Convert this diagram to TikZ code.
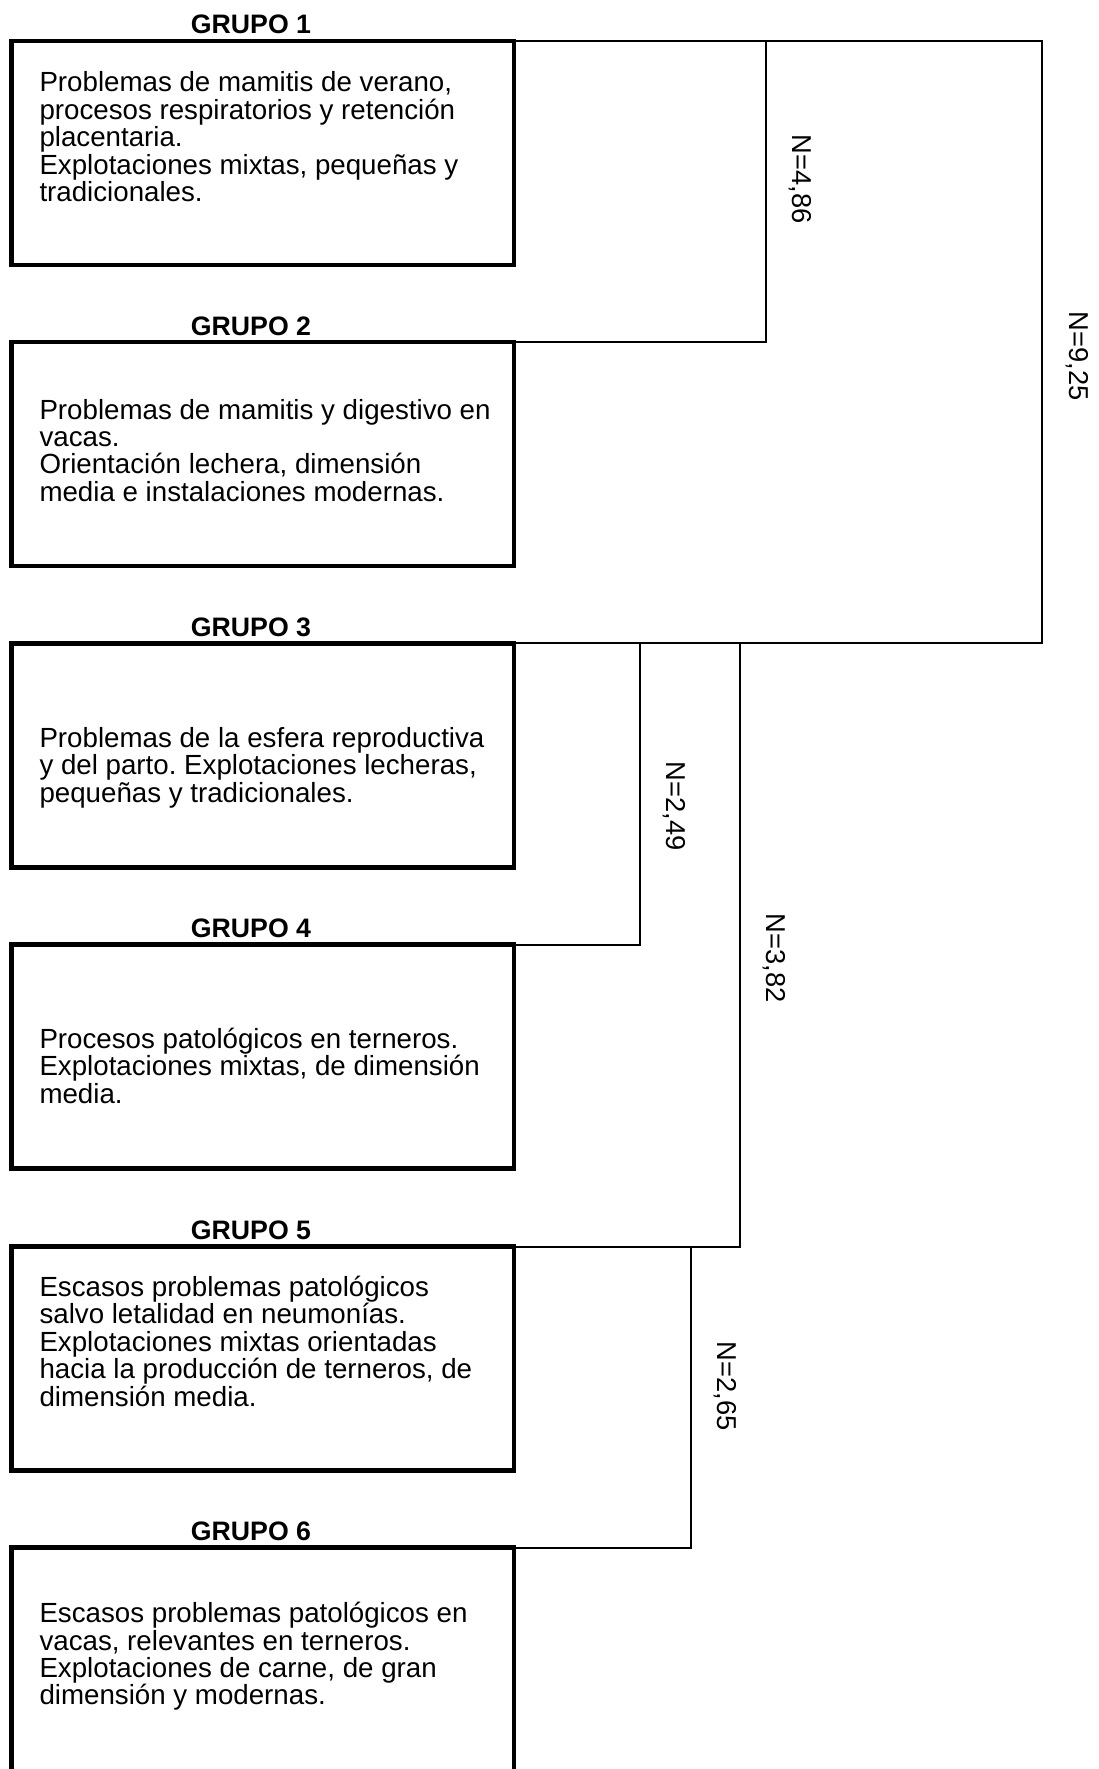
\documentclass[tikz,border=0pt]{standalone}
\usepackage{fontspec}
\setmainfont{Liberation Sans}
\frenchspacing
\newcommand{\tightlines}{\lineskiplimit-100pt\relax}
\newcommand{\fstrut}{\rule{0pt}{27pt}}
\begin{document}
\begin{tikzpicture}[x=1pt,y=-1pt,
  gbox/.style={draw=black,line width=4.5pt,minimum width=502.3pt,minimum height=224pt,inner sep=0pt,outer sep=0pt,anchor=north west},
  gtext/.style={anchor=north west,inner sep=0pt,outer sep=0pt,align=left,font={\fontsize{27.7}{27.4}\selectfont\tightlines\frenchspacing}},
  glabel/.style={anchor=base,inner sep=0pt,font={\fontsize{26.7}{30}\selectfont\bfseries}},
  nlabel/.style={rotate=-90,anchor=center,inner sep=0pt,font={\fontsize{27.3}{30}\selectfont}},
  conn/.style={draw=black,line width=2pt,line join=miter}]
\useasboundingbox (0,0) rectangle (1098,1769);
\clip (0,0) rectangle (1098,1769);
\fill[white] (0,0) rectangle (1098,1769);
% boxes
\node[gbox] (g1) at (11.7,40.8) {};
\node[gbox] (g2) at (11.7,342) {};
\node[gbox] (g3) at (11.7,643.3) {};
\node[gbox] (g4) at (11.7,944.5) {};
\node[gbox] (g5) at (11.7,1246.5) {};
\node[gbox] (g6) at (11.7,1547.7) {};
% titles
\node[glabel] (l1) at (251,33.8) {GRUPO 1};
\node[glabel] (l2) at (251,335) {GRUPO 2};
\node[glabel] (l3) at (251,636.3) {GRUPO 3};
\node[glabel] (l4) at (251,937.5) {GRUPO 4};
\node[glabel] (l5) at (251,1239.5) {GRUPO 5};
\node[glabel] (l6) at (251,1540.7) {GRUPO 6};
% texts
\node[gtext] (t1) at (39.5,64.8) {\fstrut Problemas de mamitis de verano,\\ procesos respiratorios y retención\\ placentaria.\\ Explotaciones mixtas, pequeñas y\\ tradicionales.};
\node[gtext] (t2) at (39.5,392) {\fstrut Problemas de mamitis y digestivo en\\ vacas.\\ Orientación lechera, dimensión\\ media e instalaciones modernas.};
\node[gtext] (t3) at (39.5,720.3) {\fstrut Problemas de la esfera reproductiva\\ y del parto. Explotaciones lecheras,\\ pequeñas y tradicionales.};
\node[gtext] (t4) at (39.5,1021.5) {\fstrut Procesos patológicos en terneros.\\ Explotaciones mixtas, de dimensión\\ media.};
\node[gtext] (t5) at (39.5,1269.5) {\fstrut Escasos problemas patológicos\\ salvo letalidad en neumonías.\\ Explotaciones mixtas orientadas\\ hacia la producción de terneros, de\\ dimensión media.};
\node[gtext] (t6) at (39.5,1595.7) {\fstrut Escasos problemas patológicos en\\ vacas, relevantes en terneros.\\ Explotaciones de carne, de gran\\ dimensión y modernas.};
% junction coordinates
\coordinate (j925t) at (1042,40.8);
\coordinate (j925b) at (1042,643.3);
\coordinate (j486t) at (765.7,40.8);
\coordinate (j486b) at (765.7,342);
\coordinate (j249t) at (640.3,643.3);
\coordinate (j249b) at (640.3,944.5);
\coordinate (j382t) at (740.3,643.3);
\coordinate (j382b) at (740.3,1246.5);
\coordinate (j265t) at (690.7,1246.5);
\coordinate (j265b) at (690.7,1547.7);
% connectors
\draw[conn] (g1.north east) -- (j925t) -- (j925b) -- (g3.north east);
\draw[conn] (j486t) -- (j486b) -- (g2.north east);
\draw[conn] (j249t) -- (j249b) -- (g4.north east);
\draw[conn] (j382t) -- (j382b) -- (g5.north east);
\draw[conn] (j265t) -- (j265b) -- (g6.north east);
% distance labels
\node[nlabel] (n486) at (800,179) {N=4,86};
\node[nlabel] (n925) at (1077,356) {N=9,25};
\node[nlabel] (n249) at (674.7,806) {N=2,49};
\node[nlabel] (n382) at (774.7,958) {N=3,82};
\node[nlabel] (n265) at (725,1386) {N=2,65};
\end{tikzpicture}
\end{document}
